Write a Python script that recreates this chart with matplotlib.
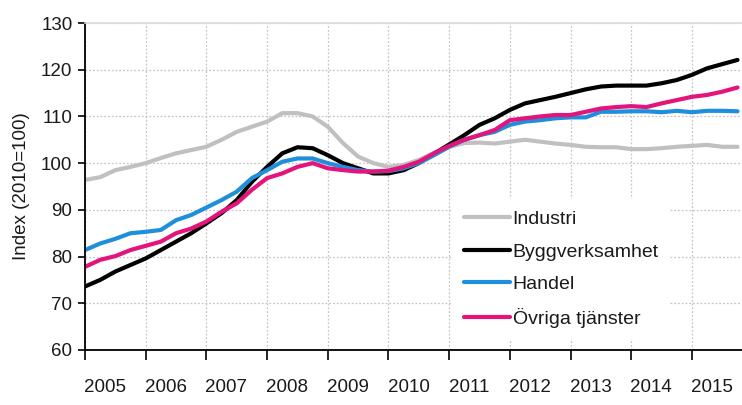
import numpy as np
import matplotlib
matplotlib.use("Agg")
import matplotlib.pyplot as plt

plt.rcParams['font.family'] = ['Liberation Sans', 'DejaVu Sans']

# quarterly observations, 2005Q1 .. 2015Q4
start_year = 2005
n_quarters = 44
industri = [96.4, 97.0, 98.5, 99.2,
            100.0, 101.1, 102.1, 102.8,
            103.5, 105.0, 106.7, 107.8,
            108.9, 110.7, 110.7, 110.0,
            107.8, 104.3, 101.4, 100.0,
            99.2, 99.6, 100.7, 102.2,
            103.5, 104.3, 104.4, 104.2,
            104.6, 105.0, 104.6, 104.2,
            103.9, 103.5, 103.4, 103.4,
            103.0, 103.0, 103.2, 103.5,
            103.7, 103.9, 103.5, 103.5]
bygg = [73.6, 75.0, 76.8, 78.2,
        79.6, 81.4, 83.2, 85.0,
        87.1, 89.3, 92.1, 96.0,
        99.2, 102.1, 103.4, 103.2,
        101.7, 100.0, 98.9, 97.8,
        97.8, 98.5, 100.0, 102.0,
        104.0, 106.0, 108.2, 109.6,
        111.4, 112.8, 113.5, 114.2,
        115.0, 115.8, 116.4, 116.6,
        116.6, 116.6, 117.1, 117.8,
        118.9, 120.3, 121.2, 122.1]
handel = [81.4, 82.8, 83.8, 85.0,
          85.3, 85.7, 87.8, 88.9,
          90.5, 92.1, 93.9, 96.8,
          98.5, 100.3, 101.0, 101.0,
          100.0, 99.2, 98.5, 98.2,
          98.3, 98.9, 100.0, 101.7,
          103.5, 105.0, 106.0, 106.7,
          108.2, 108.9, 109.2, 109.6,
          109.8, 109.8, 111.0, 111.0,
          111.1, 111.1, 110.9, 111.2,
          110.9, 111.2, 111.2, 111.1]
ovriga = [77.8, 79.3, 80.1, 81.4,
          82.3, 83.2, 85.0, 86.0,
          87.5, 89.6, 91.4, 94.3,
          96.8, 97.8, 99.2, 100.0,
          98.9, 98.5, 98.2, 98.2,
          98.4, 99.2, 100.3, 102.1,
          103.7, 105.0, 106.0, 107.1,
          109.2, 109.6, 110.0, 110.3,
          110.3, 111.0, 111.7, 112.0,
          112.2, 112.0, 112.8, 113.5,
          114.2, 114.6, 115.3, 116.2]
labels = ["Industri", "Byggverksamhet", "Handel", "Övriga tjänster"]
colors = ["#c0c0c0", "#000000", "#1f8fdc", "#e3157b"]
years = list(range(2005, 2016))
yticks = [60, 70, 80, 90, 100, 110, 120, 130]

t = start_year + np.arange(n_quarters) / 4.0

fig = plt.figure(figsize=(7.42, 4.05), dpi=100)
ax = fig.add_axes([85/742, 1-350/405, (742-85)/742, (350-23)/405])

for vals, lab, col in zip([industri, bygg, handel, ovriga], labels, colors):
    ax.plot(t, vals, color=col, lw=3.0, label=lab, solid_capstyle='round')

ax.set_xlim(2005, 2005 + (742-85)/60.7)
ax.set_ylim(60, 130)
ax.set_yticks(yticks)
ax.set_xticks(years)
ax.set_xticklabels([])
ax.set_xticks([y + 0.33 for y in years], minor=True)
ax.set_xticklabels([str(y) for y in years], minor=True)
ax.tick_params(axis='x', which='minor', length=0, pad=21, labelsize=13.5, colors='#1a1a1a')
ax.tick_params(axis='x', which='major', length=7, width=1.2, direction='out', color='black')
ax.tick_params(axis='y', length=5, width=1.2, pad=4, labelsize=13.5, colors='#1a1a1a')
ax.tick_params(axis='y', color='black')

ax.grid(True, which='major', color='#c8c4cc', lw=0.9, ls=(0, (1.5, 1.5)))
ax.set_axisbelow(True)
ax.spines['right'].set_visible(False)
ax.spines['top'].set_color('#dcdcdc')
ax.spines['top'].set_linewidth(1.2)
ax.spines['left'].set_linewidth(1.3)
ax.spines['bottom'].set_linewidth(1.3)

ax.set_ylabel("Index (2010=100)", fontsize=13.5, color='#1a1a1a', labelpad=8)

leg = ax.legend(loc='upper left', bbox_to_anchor=((452-85)/657, (350-199)/327),
                fontsize=14, frameon=True, fancybox=False, framealpha=1,
                handlelength=2.4, handletextpad=0.12, labelspacing=0.76,
                borderpad=0.6, borderaxespad=0)
leg.get_frame().set_edgecolor('none')
leg.get_frame().set_facecolor('white')
for txt in leg.get_texts():
    txt.set_color('#1a1a1a')

fig.savefig("out.png", dpi=100)
